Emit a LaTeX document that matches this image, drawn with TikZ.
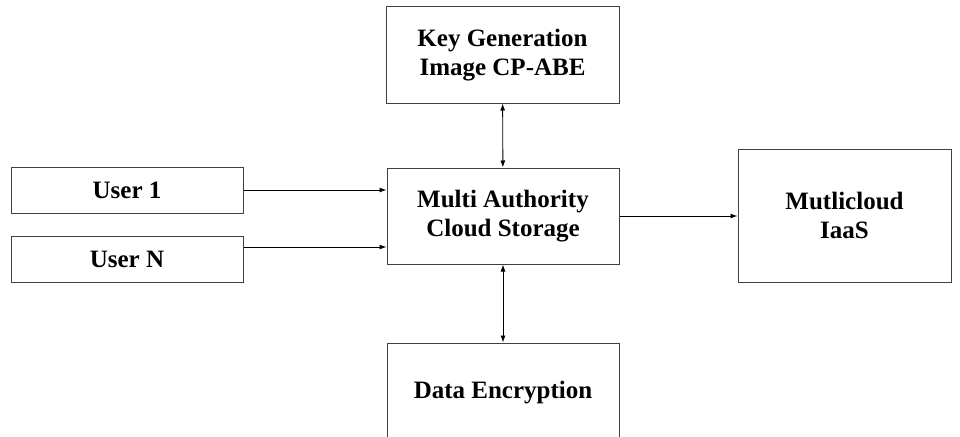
\documentclass[tikz,border=0pt]{standalone}
\usepackage{fontspec}
\setmainfont{Liberation Serif}
\usetikzlibrary{arrows.meta}
\begin{document}
\begin{tikzpicture}[x=1pt,y=-1pt,>={Latex[length=7pt,width=5pt]}]
      \tikzstyle{every node}=[rectangle,draw=black!75,line width=1pt,align=center,
        font=\fontsize{25}{29}\selectfont\bfseries,inner sep=0pt]
      \useasboundingbox (0,0) rectangle (960,436);
      \clip (0,0) rectangle (960,436);

      \node[minimum width=233pt,minimum height=96pt] (keygen) at (502.5,55) {Key Generation\\Image CP-ABE};
      \node[minimum width=232pt,minimum height=46pt] (user1) at (127,190) {User 1};
      \node[minimum width=232pt,minimum height=46pt] (userN) at (127,259) {User N};
      \node[minimum width=232pt,minimum height=96pt] (multi) at (503,216) {Multi Authority\\Cloud Storage};
      \node[minimum width=213pt,minimum height=133pt] (cloud) at (844.5,215.5) {Mutlicloud\\IaaS};
      \node[minimum width=232pt,minimum height=100pt] (encrypt) at (503,393) {Data Encryption};

      \draw[->,line width=0.9pt] (user1) -- (user1 -| multi.west);
      \draw[->,line width=0.9pt] ([yshift=12pt]userN.east) -- ([yshift=12pt]userN.east -| multi.west);
      \draw[->,line width=0.9pt] (multi.east) -- (multi.east -| cloud.west);
      \draw[<->,line width=0.9pt] (keygen) -- (multi);
      \draw[<->,line width=0.9pt] (multi) -- (encrypt);
    \end{tikzpicture}
\end{document}
